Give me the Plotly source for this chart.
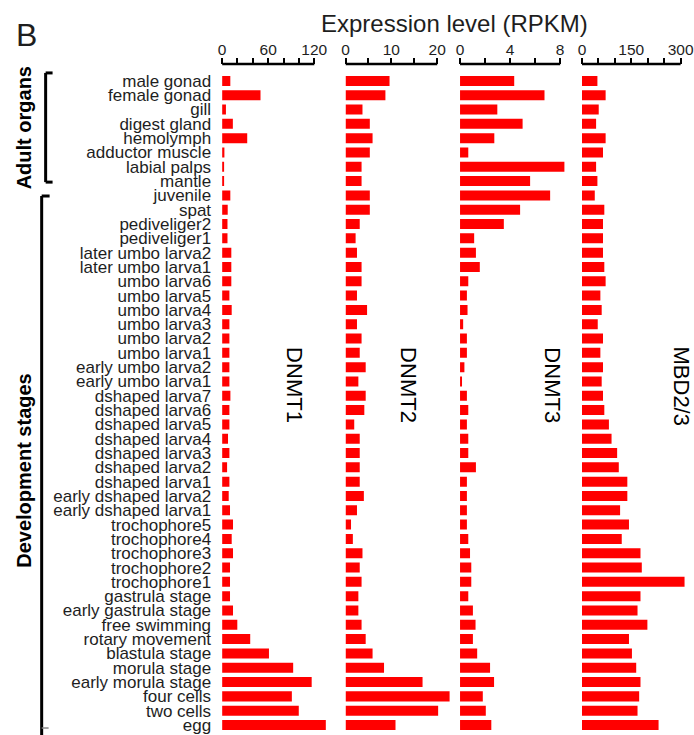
import plotly.graph_objects as go

categories = ["male gonad", "female gonad", "gill", "digest gland", "hemolymph",
              "adductor muscle", "labial palps", "mantle", "juvenile", "spat",
              "pediveliger2", "pediveliger1", "later umbo larva2", "later umbo larva1",
              "umbo larva6", "umbo larva5", "umbo larva4", "umbo larva3", "umbo larva2",
              "umbo larva1", "early umbo larva2", "early umbo larva1", "dshaped larva7",
              "dshaped larva6", "dshaped larva5", "dshaped larva4", "dshaped larva3",
              "dshaped larva2", "dshaped larva1", "early dshaped larva2",
              "early dshaped larva1", "trochophore5", "trochophore4", "trochophore3",
              "trochophore2", "trochophore1", "gastrula stage", "early gastrula stage",
              "free swimming", "rotary movement", "blastula stage", "morula stage",
              "early morula stage", "four cells", "two cells", "egg"]

dnmt1 = [10.7, 50, 5, 14, 32.7, 3, 2, 2.5, 10.7, 7.3, 7, 7, 12, 12, 12,
         9.5, 12.5, 9.5, 9.5, 9.5, 9.5, 9.5, 10.8, 9.5, 9.5, 7.7, 9.5, 6.5, 9.5, 8.6,
         10.3, 14.2, 12.5, 14.2, 10.3, 10.3, 10.3, 14.2, 19.8, 36.6, 61, 92.5, 116.6,
         90.8, 99.8, 135]
dnmt2 = [9.6, 8.7, 3.7, 5.3, 5.9, 5.3, 3.5, 3.5, 5.3, 5.3, 3.1, 2.2, 2.5, 3.5, 3.5,
         2.5, 4.7, 2.5, 3.5, 3.1, 4.4, 2.8, 4.4, 4.1, 1.9, 3.1, 3.1, 3.1, 3.1, 4.0,
         2.5, 1.2, 1.6, 3.7, 3.1, 3.5, 2.8, 2.8, 3.5, 4.4, 5.9, 8.4, 16.8, 22.7, 20.2, 10.9]
dnmt3 = [4.33, 6.75, 2.98, 5.0, 2.74, 0.66, 8.34, 5.6, 7.2, 4.8, 3.5, 1.13, 1.27, 1.58, 0.66,
         0.55, 0.6, 0.25, 0.55, 0.55, 0.35, 0.15, 0.55, 0.66, 0.55, 0.66, 0.66, 1.27, 0.55, 0.55,
         0.55, 0.55, 0.66, 0.8, 0.9, 0.9, 0.66, 1.03, 1.24, 1.03, 1.37, 2.4, 2.72, 1.82, 2.06, 2.5]
mbd23 = [47, 72, 51, 43, 72, 64, 43, 47, 39, 68, 64, 64, 64, 68, 72,
         56, 60, 48, 64, 56, 64, 60, 64, 68, 82, 90, 107, 112, 138, 138,
         116, 143, 121, 178, 182, 312, 178, 169, 199, 143, 152, 165, 178, 174, 169, 233]

gene_names = ["DNMT1", "DNMT2", "DNMT3", "MBD2/3"]
series = [dnmt1, dnmt2, dnmt3, mbd23]
axis_max = [120, 20, 8, 300]
tick_step = [20, 5, 2, 50]
tick_labels = [["0", "", "", "60", "", "", "120"],
               ["0", "", "10", "", "20"],
               ["0", "", "4", "", "8"],
               ["0", "", "", "150", "", "", "300"]]

W, H = 694, 735
MT = 64
PH = H - MT
FONT = "Liberation Sans, Arial, sans-serif"
TXT = "#1e1e1e"


def px(x):
    return x / W


def py(y):
    return (H - y) / PH


# pixel geometry of panels: zero position, pixels per unit
zero_px = [220, 344.5, 460, 583]
ppu = [93 / 120, 92.5 / 20, 101 / 8, 99.5 / 300]
dom_right = [332, 456, 572, 694]
label_px = [293, 408, 553, 683]

fig = go.Figure()
layout_axes = {}
shapes = []
for i, (name, vals) in enumerate(zip(gene_names, series)):
    xname = "x" if i == 0 else f"x{i+1}"
    axkey = "xaxis" if i == 0 else f"xaxis{i+1}"
    fig.add_trace(go.Bar(
        y=categories, x=vals, orientation="h", xaxis=xname, yaxis="y",
        marker=dict(color="#ff0000", line=dict(width=0)), width=0.7,
        showlegend=False, name=name,
    ))
    rng_max = (dom_right[i] - zero_px[i]) / ppu[i]
    n = int(round(axis_max[i] / tick_step[i]))
    tv = [k * tick_step[i] for k in range(n + 1)]
    layout_axes[axkey] = dict(
        domain=[px(zero_px[i]), px(dom_right[i])],
        range=[0, rng_max], anchor="free", position=1, side="top",
        showline=False, showgrid=False, zeroline=False,
        ticks="outside", ticklen=6, tickwidth=2, tickcolor="black",
        tickvals=tv, ticktext=tick_labels[i], ticklabelstandoff=-3,
        ticklabeloverflow="allow",
        tickfont=dict(family=FONT, size=15.5, color=TXT),
        fixedrange=True,
    )
    shapes.append(dict(type="line", xref=xname, yref="paper",
                       x0=0, x1=axis_max[i], y0=1, y1=1,
                       line=dict(color="black", width=2.5)))
    fig.add_annotation(text=name, x=px(label_px[i]), y=py(388), xref="paper", yref="paper",
                       showarrow=False, textangle=90, xanchor="center", yanchor="middle",
                       font=dict(family=FONT, size=22, color="black"))

# brackets
bl = dict(color="black", width=3)
shapes += [
    dict(type="line", xref="paper", yref="paper", x0=px(42), x1=px(42), y0=py(73), y1=py(183), line=bl),
    dict(type="line", xref="paper", yref="paper", x0=px(42), x1=px(49), y0=py(73), y1=py(73), line=bl),
    dict(type="line", xref="paper", yref="paper", x0=px(42), x1=px(49), y0=py(183), y1=py(183), line=bl),
    dict(type="line", xref="paper", yref="paper", x0=px(38), x1=px(38), y0=py(197), y1=py(745), line=bl),
    dict(type="line", xref="paper", yref="paper", x0=px(38), x1=px(46), y0=py(197), y1=py(197), line=bl),
    dict(type="line", xref="paper", yref="paper", x0=px(38), x1=px(45), y0=py(733), y1=py(733),
         line=dict(color="#888", width=1.5)),
]

fig.add_annotation(text="Expression level (RPKM)", x=px(454), y=py(23), xref="paper", yref="paper",
                   showarrow=False, xanchor="center", yanchor="middle",
                   font=dict(family=FONT, size=24, color=TXT))
fig.add_annotation(text="B", x=px(10), y=py(35), xref="paper", yref="paper",
                   showarrow=False, xanchor="left", yanchor="middle",
                   font=dict(family=FONT, size=32, color=TXT))
fig.add_annotation(text="<b>Adult organs</b>", x=px(20), y=py(128), xref="paper", yref="paper",
                   showarrow=False, textangle=-90, xanchor="center", yanchor="middle",
                   font=dict(family=FONT, size=20, color="black"))
fig.add_annotation(text="<b>Development stages</b>", x=px(20), y=py(473), xref="paper", yref="paper",
                   showarrow=False, textangle=-90, xanchor="center", yanchor="middle",
                   font=dict(family=FONT, size=20, color="black"))

fig.update_layout(
    width=W, height=H,
    margin=dict(l=0, r=0, t=MT, b=0, pad=0),
    paper_bgcolor="white", plot_bgcolor="rgba(0,0,0,0)",
    bargap=0.3,
    shapes=shapes,
    yaxis=dict(type="category", categoryorder="array", categoryarray=categories,
               tickmode="array", tickvals=categories, ticktext=categories,
               range=[45.35, -0.5], domain=[0, py(73.8)], anchor="x",
               showline=False, showgrid=False, zeroline=False, ticks="",
               ticklabelstandoff=10,
               tickfont=dict(family=FONT, size=17, color=TXT), fixedrange=True),
    **layout_axes,
)

fig.write_html("out.html")
